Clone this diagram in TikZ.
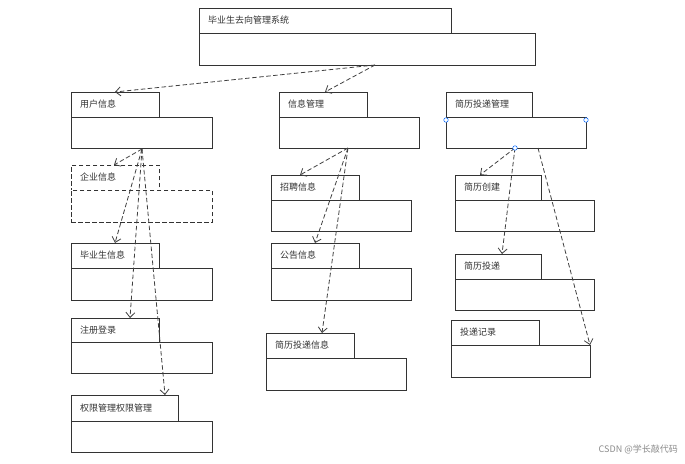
\documentclass[tikz,border=0pt]{standalone}
\usepackage{fontspec}
\setmainfont{Noto Sans CJK SC}
\usetikzlibrary{arrows.meta}
\tikzset{
  tabbox/.style={draw=black!80,line width=0.8pt,fill=white,inner sep=0,anchor=north west},
  lbl/.style={font=\fontsize{9}{10}\selectfont,text=black!80,anchor=west,inner sep=0},
  dep/.style={draw=black!75,line width=0.8pt,dashed,dash pattern=on 4.5pt off 2.5pt,-{Straight Barb[length=5pt,width=9pt]}},
  hnd/.style={draw=blue!60!cyan,fill=white,line width=0.5pt,circle,inner sep=0,minimum size=4.5pt}
}
\newcommand{\pkg}[8]{% name, x1, y1, tabx2, y2, bodyx2, y3, label
  \node[tabbox,minimum width=#4pt-#2pt,minimum height=#5pt-#3pt] (#1t) at (#2,#3) {};
  \node[tabbox,minimum width=#6pt-#2pt,minimum height=#7pt-#5pt] (#1) at (#2,#5) {};
  \node[lbl] (#1l) at (#2+9,{(#3+#5)/2}) {#8};
}
\begin{document}
\begin{tikzpicture}[x=1pt,y=-1pt]
\useasboundingbox[fill=white] (0,0) rectangle (685,463);
\pkg{top}{199}{8}{451}{33}{535}{65}{毕业生去向管理系统}
\pkg{user}{71}{92}{159}{117}{212}{148}{用户信息}
\pkg{info}{279}{92}{367}{117}{419}{148}{信息管理}
\pkg{res}{446}{92}{532}{117}{586}{148}{简历投递管理}
\begin{scope}[tabbox/.append style={dashed,dash pattern=on 4.5pt off 2.5pt}]
\pkg{ent}{71}{165}{159}{190}{212}{222}{企业信息}
\end{scope}
\pkg{grad}{71}{243}{159}{268}{212}{300}{毕业生信息}
\pkg{reg}{71}{318}{159}{342}{212}{373}{注册登录}
\pkg{perm}{71}{395}{178}{421}{212}{452}{权限管理权限管理}
\pkg{job}{271}{175}{359}{200}{411}{231}{招聘信息}
\pkg{note}{271}{243}{359}{268}{411}{300}{公告信息}
\pkg{rinfo}{266}{333}{354}{358}{406}{390}{简历投递信息}
\pkg{rc}{455}{175}{541}{200}{594}{231}{简历创建}
\pkg{rd}{455}{254}{541}{279}{594}{310}{简历投递}
\pkg{rec}{451}{320}{539}{345}{590}{377}{投递记录}
\coordinate (topb) at (375,65);
\coordinate (userb) at (142,149);
\coordinate (infob) at (348,148);
\coordinate (resb) at (515,148);
\coordinate (resb2) at (538,148);
\draw[dep] (topb) -- (115,92);
\draw[dep] (topb) -- (325,92);
\draw[dep] (userb) -- (114,165);
\draw[dep] (userb) -- (115,243);
\draw[dep] (userb) -- (130,318);
\draw[dep] (userb) -- (165,395);
\draw[dep] (infob) -- (300,175);
\draw[dep] (infob) -- (315,243);
\draw[dep] (infob) -- (322,333);
\draw[dep] (resb) -- (480,175);
\draw[dep] (resb) -- (502,254);
\draw[dep] (resb2) -- (590,345);
\node[hnd] (h1) at (446,120) {};
\node[hnd] (h2) at (586,120) {};
\node[hnd] (h3) at (resb) {};
\node[font=\fontsize{9}{10}\selectfont,text=black!45,anchor=east,inner sep=0] (wm) at (678,449) {CSDN @学长敲代码};
\end{tikzpicture}
\end{document}
